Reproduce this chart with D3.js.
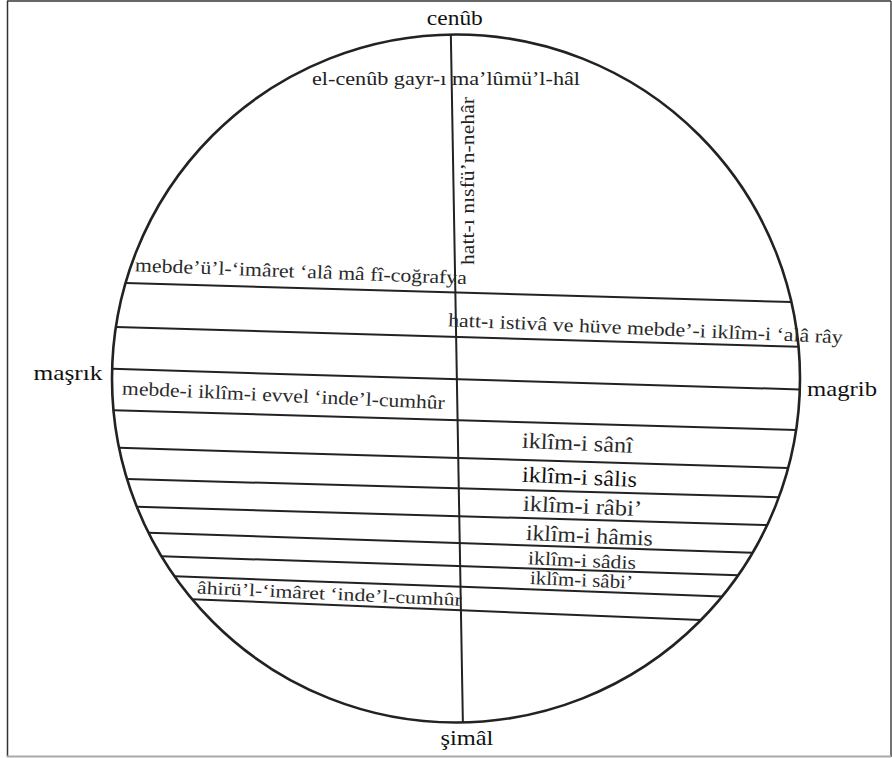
<!DOCTYPE html>
<html>
<head>
<meta charset="utf-8">
<script src="https://cdn.jsdelivr.net/npm/d3@7"></script>
<style>
	body {margin:0; background:#fff}
	svg {display:block}
</style>
</head>
<body>
<svg id="chart" width="892" height="758"></svg>
<script>
// chords: where each one crosses the meridian (radius units, + is down) and its tilt
const chordOffsets = [-0.250, -0.121, 0.002, 0.121, 0.231, 0.319, 0.400, 0.478, 0.545, 0.605, 0.673]
const chordTilts   = [0.0285, 0.029, 0.030, 0.029, 0.030, 0.028, 0.029, 0.033, 0.033, 0.037, 0.041]
// meridian ends, x offset at top and bottom (radius units)
const meridianEnds = [-0.015, 0.02]

const directions    = ["cenûb", "şimâl", "maşrık", "magrib"]
const southLabel    = "el-cenûb gayr-ı ma’lûmü’l-hâl"
const meridianLabel = "hatt-ı nısfü’n-nehâr"
// band i lies between chord i-1 and chord i
const bandLabels = [
	"mebde’ü’l-‘imâret ‘alâ mâ fî-coğrafya",
	"hatt-ı istivâ ve hüve mebde’-i iklîm-i ‘alâ rây",
	"mebde-i iklîm-i evvel ‘inde’l-cumhûr",
	"iklîm-i sânî",
	"iklîm-i sâlis",
	"iklîm-i râbi’",
	"iklîm-i hâmis",
	"iklîm-i sâdis",
	"iklîm-i sâbi’",
	"âhirü’l-‘imâret ‘inde’l-cumhûr"
]
const bandIndex = [0, 1, 3, 4, 5, 6, 7, 8, 9, 10]

const cx = 456, cy = 378.5, r = 344
const serif = "'Liberation Serif', 'Times New Roman', 'DejaVu Serif', serif"

const svg = d3.select("#chart").attr("font-family", serif)

const x = d3.scaleLinear().domain([-1, 1]).range([cx - r, cx + r])
const y = d3.scaleLinear().domain([-1, 1]).range([cy - r, cy + r])

// frame
svg.append("line").attr("x1", 7.5).attr("x2", 7.5).attr("y1", 1).attr("y2", 757)
	.attr("stroke", "#333").attr("stroke-width", 1.5)
svg.append("line").attr("x1", 7).attr("x2", 891).attr("y1", 1).attr("y2", 1)
	.attr("stroke", "#333").attr("stroke-width", 1.5)
svg.append("line").attr("x1", 891).attr("x2", 891).attr("y1", 1).attr("y2", 757)
	.attr("stroke", "#444").attr("stroke-width", 1.5)
svg.append("line").attr("x1", 7).attr("x2", 891).attr("y1", 756.5).attr("y2", 756.5)
	.attr("stroke", "#aaa").attr("stroke-width", 2)

const ink = "#222"

// chord line y = m + s*u, cut by the unit circle
function chordEnds(m, s){
	const a = 1 + s*s, b = 2*m*s, c = m*m - 1
	const d = Math.sqrt(b*b - 4*a*c)
	return [(-b - d)/(2*a), (-b + d)/(2*a)]
}
const chordY = (i, u) => chordOffsets[i] + chordTilts[i]*u

svg.append("g").selectAll("line")
	.data(chordOffsets)
	.join("line")
	.each(function(m, i){
		const [u0, u1] = chordEnds(m, chordTilts[i])
		d3.select(this)
			.attr("x1", x(u0)).attr("y1", y(chordY(i, u0)))
			.attr("x2", x(u1)).attr("y2", y(chordY(i, u1)))
	})
	.attr("stroke", ink)
	.attr("stroke-width", 2)

// meridian
svg.append("line")
	.attr("x1", x(meridianEnds[0])).attr("y1", y(-1))
	.attr("x2", x(meridianEnds[1])).attr("y2", y(1))
	.attr("stroke", ink).attr("stroke-width", 2)

// circle
svg.append("circle")
	.attr("cx", x(0)).attr("cy", y(0)).attr("r", x(1) - x(0))
	.attr("fill", "none").attr("stroke", ink).attr("stroke-width", 2.6)

// helper for stretched text, centred at (px, py)
function label(txt, px, py, {len, size, angle=0, fill="#222"}){
	const g = svg.append("g").attr("transform", `translate(${px},${py}) rotate(${angle})`)
	g.append("text")
		.attr("x", -len/2).attr("dy", "0.35em")
		.attr("font-family", serif)
		.attr("textLength", len).attr("lengthAdjust", "spacingAndGlyphs")
		.attr("font-size", size).attr("fill", fill)
		.text(txt)
}

// compass points
label(directions[0], x(meridianEnds[0]) + 4, y(-1) - 17, {len:56, size:22, fill:"#111"})
label(directions[1], x(meridianEnds[1]) + 4, y(1) + 15, {len:53, size:22, fill:"#111"})
label(directions[2], x(-1) - 44, y(0) - 6, {len:69, size:22, fill:"#111"})
label(directions[3], x(1) + 42, y(0) + 10, {len:70, size:22, fill:"#111"})

label(southLabel, 446, 78, {len:268, size:19})
label(meridianLabel, 468, 181, {len:168, size:18, angle:-90})

// band labels: start x, width, size, angle, shift from band middle
const bandLayout = [
	{x0:135, len:332, size:19, angle:2.2, dy:-17},
	{x0:448, len:395, size:19, angle:2.5, dy:8},
	{x0:122, len:323, size:19, angle:2.6, dy:0.5},
	{x0:522, len:111, size:22, angle:2.6, dy:0},
	{x0:522, len:115, size:22, angle:2.6, dy:0, fill:"#111"},
	{x0:523, len:119, size:22, angle:2.6, dy:0},
	{x0:526, len:127, size:22, angle:2.6, dy:1.5},
	{x0:528, len:108, size:19, angle:2.6, dy:1.5},
	{x0:530, len:103, size:19, angle:2.6, dy:-1},
	{x0:197, len:265, size:18, angle:2.7, dy:0}
]

bandLabels.forEach((txt, k) => {
	const b = bandIndex[k], L = bandLayout[k]
	const mx = L.x0 + L.len/2
	const u = x.invert(mx)
	const mid = b == 0 ? y(chordY(0, u)) : (y(chordY(b-1, u)) + y(chordY(b, u)))/2
	label(txt, mx, mid + L.dy, {len:L.len, size:L.size, angle:L.angle, fill:L.fill || "#2a2a2a"})
})
</script>
</body>
</html>
